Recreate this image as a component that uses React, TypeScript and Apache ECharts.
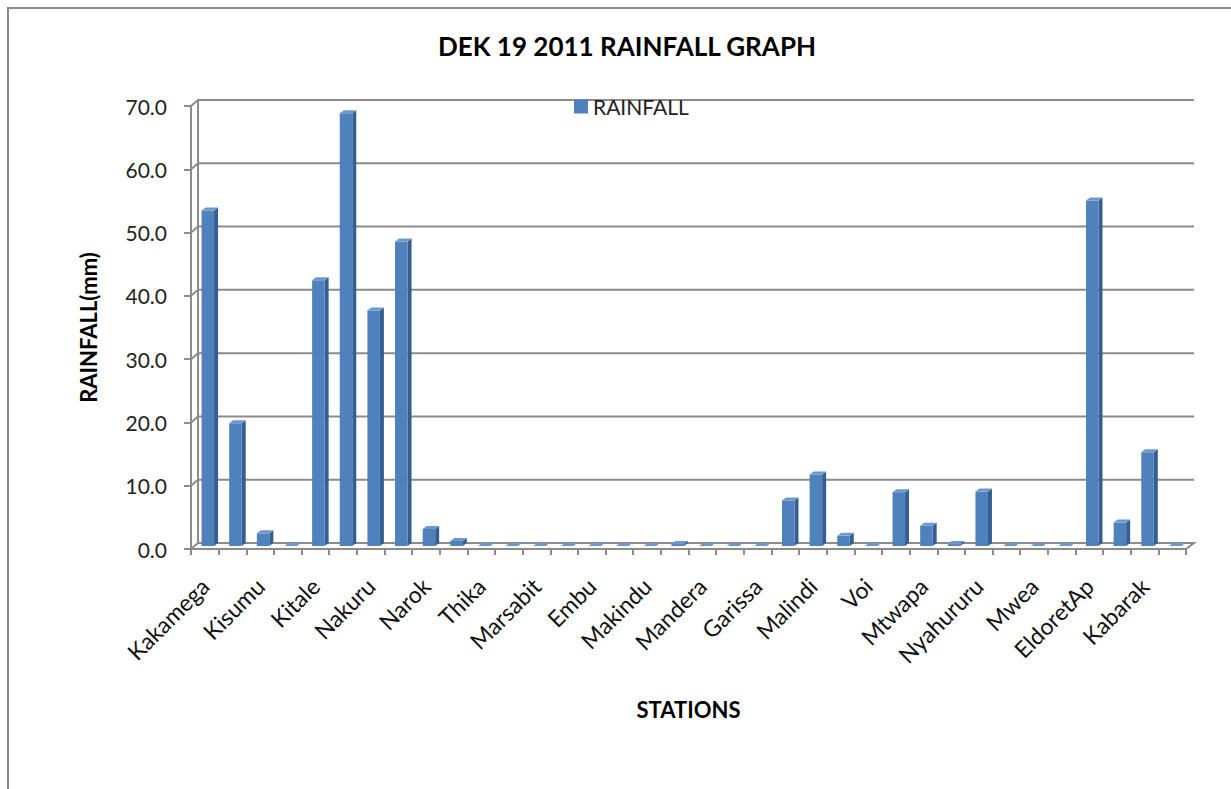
import React, { useEffect, useRef } from "react";
import * as echarts from "echarts";

const stations = [
  "Kakamega", "", "Kisumu", "", "Kitale", "", "Nakuru", "", "Narok", "",
  "Thika", "", "Marsabit", "", "Embu", "", "Makindu", "", "Mandera", "",
  "Garissa", "", "Malindi", "", "Voi", "", "Mtwapa", "", "Nyahururu", "",
  "Mwea", "", "EldoretAp", "", "Kabarak", "",
];

const rainfall = [
  53.0, 19.4, 2.0, 0, 42.0, 68.4, 37.2, 48.1, 2.7, 0.8,
  0, 0, 0, 0, 0, 0, 0, 0.3, 0, 0,
  0, 7.2, 11.3, 1.6, 0, 8.5, 3.2, 0.3, 8.6, 0,
  0, 0, 54.6, 3.7, 14.8, 0,
];

const yTicks = [0, 10, 20, 30, 40, 50, 60, 70];

const FONT = "Lato, 'Open Sans', sans-serif";
const GRID_COLOR = "#8c8c8c";

export default function App() {
  const ref = useRef<HTMLDivElement>(null);

  useEffect(() => {
    if (!ref.current) return;
    const chart = echarts.init(ref.current, null, { renderer: "svg" });

    const option: any = {
      animation: false,
      backgroundColor: "#ffffff",
      title: {
        text: "DEK 19 2011 RAINFALL GRAPH",
        left: 622,
        top: 28,
        textAlign: "center",
        textStyle: { fontFamily: FONT, fontSize: 26, fontWeight: "bold", color: "#000" },
      },
      legend: {
        data: [{ name: "RAINFALL", icon: "rect" }],
        left: 569,
        top: 91,
        itemWidth: 14,
        itemHeight: 14,
        itemGap: 6,
        textStyle: { fontFamily: FONT, fontSize: 21, color: "#222" },
      },
      grid: { left: 191, right: 45, top: 106, bottom: 240, containLabel: false },
      xAxis: {
        type: "category",
        data: stations,
        boundaryGap: true,
        name: "STATIONS",
        nameLocation: "middle",
        nameGap: 149,
        nameTextStyle: { fontFamily: FONT, fontSize: 22, fontWeight: "bold", color: "#000" },
        axisLine: { show: true, lineStyle: { color: GRID_COLOR, width: 2 } },
        axisTick: { show: true, interval: 0, length: 6, lineStyle: { color: GRID_COLOR, width: 2 } },
        axisLabel: {
          interval: 1,
          rotate: 45,
          margin: 33,
          fontFamily: FONT,
          fontSize: 23,
          color: "#111",
        },
        splitLine: { show: false },
      },
      yAxis: {
        type: "value",
        min: 0,
        max: 70,
        interval: 10,
        name: "RAINFALL(mm)",
        nameLocation: "middle",
        nameGap: 92,
        nameTextStyle: { fontFamily: FONT, fontSize: 22, fontWeight: "bold", color: "#000" },
        axisLine: { show: true, lineStyle: { color: GRID_COLOR, width: 2 } },
        axisTick: { show: true, length: 7, lineStyle: { color: GRID_COLOR, width: 2 } },
        axisLabel: {
          margin: 24,
          fontFamily: FONT,
          fontSize: 21,
          color: "#222",
          formatter: (v: number) => v.toFixed(1),
        },
        splitLine: { show: false },
      },
      graphic: [
        { type: "line", shape: { x1: 7, y1: 8, x2: 1231, y2: 8 }, style: { stroke: "#8a8a8a", lineWidth: 2 } },
        { type: "line", shape: { x1: 8, y1: 8, x2: 8, y2: 789 }, style: { stroke: "#8a8a8a", lineWidth: 2 } },
      ],
      series: [
        {
          type: "custom",
          name: "grid3d",
          silent: true,
          z: 1,
          encode: { x: 0, y: 1 },
          data: yTicks.map((v) => [0, v]),
          renderItem: (params: any, api: any) => {
            const cs = params.coordSys;
            const v = api.value(1);
            const y = api.coord([0, v])[1];
            const y0 = api.coord([0, 0])[1];
            const x0 = cs.x;
            const x1 = cs.x + cs.width;
            const pts: number[][] = [[x0, y], [x0 + 7, y - 6], [x1 + 8, y - 6]];
            if (v === 0) pts.push([x1, y]);
            const children: any[] = [
              { type: "polyline", shape: { points: pts }, style: { stroke: GRID_COLOR, lineWidth: 2, fill: null } },
            ];
            if (v === 70) {
              children.push({
                type: "line",
                shape: { x1: x0 + 7, y1: y - 6, x2: x0 + 7, y2: y0 - 6 },
                style: { stroke: GRID_COLOR, lineWidth: 2 },
              });
            }
            return { type: "group", children };
          },
        },
        {
          type: "custom",
          name: "RAINFALL",
          z: 2,
          encode: { x: 0, y: 1 },
          itemStyle: { color: "#4F81BD" },
          data: rainfall.map((v, i) => [i, v]),
          renderItem: (params: any, api: any) => {
            const i = api.value(0);
            const v = api.value(1);
            const p = api.coord([i, v]);
            const b = api.coord([i, 0]);
            const fw = 12.5;
            const dx = 4;
            const dy = 3;
            const xl = p[0] + 3 - fw / 2;
            const top = p[1] - 3;
            const bot = b[1] - 3;
            const xr = xl + fw;
            return {
              type: "group",
              children: [
                {
                  type: "polygon",
                  shape: { points: [[xr, top], [xr + dx, top - dy], [xr + dx, bot - dy], [xr, bot]] },
                  style: { fill: "#365F91" },
                },
                {
                  type: "rect",
                  shape: { x: xl, y: top, width: fw, height: Math.max(bot - top, 0) },
                  style: { fill: "#4F81BD" },
                },
                {
                  type: "polygon",
                  shape: { points: [[xl, top], [xl + dx, top - dy], [xr + dx, top - dy], [xr, top]] },
                  style: { fill: "#6E98CD" },
                },
              ],
            };
          },
        },
      ],
    };

    chart.setOption(option);
    return () => chart.dispose();
  }, []);

  return (
    <div
      ref={ref}
      style={{ position: "fixed", left: 0, top: 0, width: 1231, height: 789, background: "#fff" }}
    />
  );
}
